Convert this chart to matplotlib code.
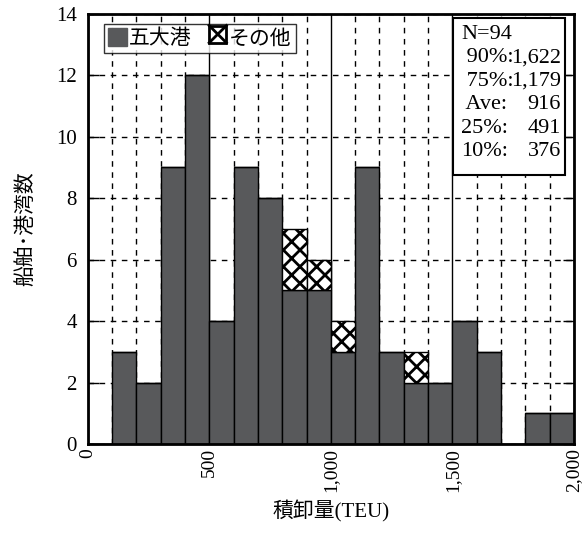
import numpy as np
import matplotlib.pyplot as plt
from matplotlib.ticker import FuncFormatter, MultipleLocator
from matplotlib.patches import Patch, Rectangle
from matplotlib.lines import Line2D
from matplotlib.legend_handler import HandlerBase

plt.rcParams['font.family'] = ['Liberation Serif', 'Noto Sans CJK JP']
plt.rcParams['hatch.linewidth'] = 2.0

# bin left edges (TEU), width 100
bin_left = np.arange(0, 2000, 100)
gotaiko = [0, 3, 2, 9, 12, 4, 9, 8, 5, 5, 3, 9, 3, 2, 2, 4, 3, 0, 1, 1]
sonota = [0, 0, 0, 0, 0, 0, 0, 0, 2, 1, 1, 0, 0, 1, 0, 0, 0, 0, 0, 0]
stat_names = ["N=94", " 90%:", " 75%:", " Ave:", "25%:", "10%:"]
stat_vals = ["", "1,622", "1,179", "916", "491", "376"]


class CrossBoxHandler(HandlerBase):
    # square with one big X, like the legend mark in the original
    def create_artists(self, legend, orig, xd, yd, w, h, fs, trans):
        s = min(w, h)
        x0, y0 = xd + (w - s) / 2, yd + (h - s) / 2
        r = Rectangle((x0, y0), s, s, facecolor='white', edgecolor='black',
                      linewidth=2, transform=trans)
        l1 = Line2D([x0, x0 + s], [y0, y0 + s], color='black', linewidth=2, transform=trans)
        l2 = Line2D([x0, x0 + s], [y0 + s, y0], color='black', linewidth=2, transform=trans)
        return [r, l1, l2]


fig = plt.figure(figsize=(5.82, 5.33), dpi=100)
ax = fig.add_axes([0.151, 0.167, 0.835, 0.807])

ax.bar(bin_left, gotaiko, width=100, align='edge', color='#58595b',
       edgecolor='black', linewidth=1, zorder=3)
ax.bar(bin_left, sonota, width=100, bottom=gotaiko, align='edge', color='white',
       edgecolor='black', hatch='XX', linewidth=1, zorder=3)

ax.set_xlim(0, 2000)
ax.set_ylim(0, 14)
ax.xaxis.set_major_locator(MultipleLocator(500))
ax.xaxis.set_minor_locator(MultipleLocator(100))
ax.yaxis.set_major_locator(MultipleLocator(2))
ax.xaxis.set_major_formatter(FuncFormatter(lambda v, p: f"{int(v):,}"))

ax.grid(True, which='major', axis='x', color='black', linestyle='-', linewidth=1, zorder=1)
ax.grid(True, which='minor', axis='x', color='black', linestyle=(0, (4, 4)), linewidth=1, zorder=1)
ax.grid(True, which='major', axis='y', color='black', linestyle=(0, (4, 4)), linewidth=1, zorder=1)

ax.tick_params(axis='y', which='major', direction='in', labelsize=15, length=8, width=1,
               right=True, pad=8)
ax.tick_params(axis='x', which='major', labelrotation=90, length=0, labelsize=14, pad=3)
ax.tick_params(axis='x', which='minor', length=0)
for s in ax.spines.values():
    s.set_linewidth(2)
    s.set_zorder(5)

ax.set_xlabel('積卸量(TEU)', fontsize=15, labelpad=6)
ax.set_ylabel('船舶･港湾数', fontsize=15, labelpad=14)

h_main = Patch(facecolor='#58595b', edgecolor='#58595b', label='五大港')
h_other = Patch(facecolor='white', edgecolor='black', label='その他')
leg = ax.legend(handles=[h_main, h_other], loc='upper left', ncol=2, fontsize=15,
                frameon=True, fancybox=False, edgecolor='black', handlelength=0.9,
                handleheight=0.9, handletextpad=0.1, columnspacing=0.8, borderpad=0.2,
                bbox_to_anchor=(0.012, 1.0), handler_map={h_other: CrossBoxHandler()})
leg.get_frame().set_linewidth(1)
leg.set_zorder(6)

# statistics box
box = Rectangle((0.752, 0.625), 0.23, 0.365, transform=ax.transAxes, facecolor='white',
                edgecolor='black', linewidth=1.5, zorder=6)
ax.add_patch(box)
ax.text(0.768, 0.975, "\n".join(stat_names), transform=ax.transAxes, fontsize=16,
        va='top', ha='left', linespacing=1.32, zorder=7)
ax.text(0.973, 0.975, "\n".join(stat_vals), transform=ax.transAxes, fontsize=16,
        va='top', ha='right', linespacing=1.32, zorder=7)

fig.savefig('out.png', dpi=100)
